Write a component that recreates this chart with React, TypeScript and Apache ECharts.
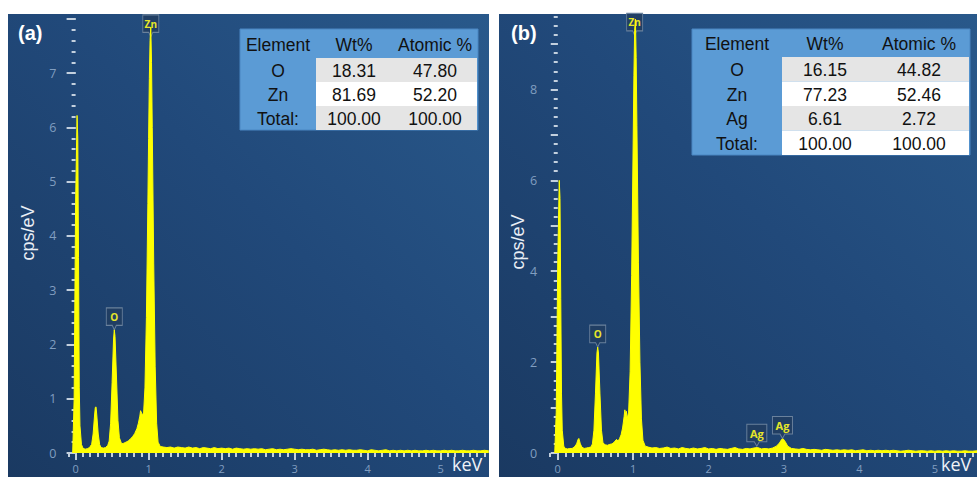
import React, { useEffect, useRef } from "react";
import * as echarts from "echarts";

// ---------- Spectrum (a) : ZnO ----------
const energyA = [
  -0.04, -0.02, 0.0, 0.02, 0.03, 0.04, 0.05, 0.06, 0.08, 0.1, 0.13, 0.16, 0.19, 0.22, 0.24, 0.26, 0.27, 0.28, 0.29, 0.31,
  0.33, 0.35, 0.38, 0.41, 0.44, 0.46, 0.48, 0.5, 0.52, 0.53, 0.54, 0.56, 0.58, 0.6, 0.63, 0.66, 0.69, 0.72, 0.75, 0.78,
  0.81, 0.84, 0.86, 0.88, 0.89, 0.91, 0.93, 0.95, 0.97, 0.99, 1.0, 1.01, 1.02, 1.03, 1.04, 1.05, 1.07, 1.09, 1.11, 1.13,
  1.16, 1.2, 1.25, 1.3, 1.35, 1.4, 1.45, 1.5, 1.55, 1.6, 1.65, 1.7, 1.75, 1.8, 1.85, 1.9, 1.95, 2.0, 2.05, 2.1,
  2.15, 2.2, 2.25, 2.3, 2.35, 2.4, 2.45, 2.5, 2.55, 2.6, 2.65, 2.7, 2.75, 2.8, 2.85, 2.9, 2.95, 3.0, 3.05, 3.1,
  3.15, 3.2, 3.25, 3.3, 3.35, 3.4, 3.45, 3.5, 3.55, 3.6, 3.65, 3.7, 3.75, 3.8, 3.85, 3.9, 3.95, 4.0, 4.05, 4.1,
  4.15, 4.2, 4.25, 4.3, 4.35, 4.4, 4.45, 4.5, 4.55, 4.6, 4.65, 4.7, 4.75, 4.8, 4.85, 4.9, 4.95, 5.0, 5.05, 5.1,
  5.15, 5.2, 5.25, 5.3, 5.35, 5.4, 5.45, 5.5, 5.55, 5.6, 5.66,
];
const cpsA = [
  0, 1.0, 4.6, 6.22, 5.8, 3.6, 1.2, 0.5, 0.16, 0.09, 0.07, 0.08, 0.1, 0.16, 0.35, 0.7, 0.84, 0.85, 0.7, 0.35,
  0.15, 0.1, 0.09, 0.1, 0.14, 0.22, 0.55, 1.3, 2.1, 2.27, 2.15, 1.4, 0.6, 0.28, 0.17, 0.18, 0.2, 0.22, 0.26, 0.3,
  0.36, 0.45, 0.55, 0.68, 0.78, 0.72, 0.7, 1.2, 2.5, 4.6, 5.8, 6.9, 7.6, 7.85, 7.2, 6.0, 3.5, 1.6, 0.55, 0.2,
  0.12, 0.11, 0.1, 0.11, 0.09, 0.11, 0.1, 0.09, 0.11, 0.09, 0.1, 0.08, 0.1, 0.09, 0.08, 0.1, 0.08, 0.09, 0.08, 0.09,
  0.07, 0.09, 0.08, 0.07, 0.08, 0.07, 0.08, 0.07, 0.08, 0.06, 0.07, 0.08, 0.06, 0.07, 0.06, 0.07, 0.08, 0.07, 0.06, 0.07,
  0.06, 0.06, 0.07, 0.05, 0.06, 0.07, 0.06, 0.05, 0.06, 0.05, 0.06, 0.05, 0.06, 0.05, 0.05, 0.06, 0.05, 0.04, 0.06, 0.05,
  0.04, 0.05, 0.06, 0.04, 0.05, 0.04, 0.05, 0.04, 0.05, 0.04, 0.05, 0.04, 0.04, 0.05, 0.04, 0.05, 0.04, 0.04, 0.05, 0.04,
  0.05, 0.04, 0.04, 0.05, 0.04, 0.04, 0.05, 0.04, 0.04, 0.05, 0.04,
];

// ---------- Spectrum (b) : Ag-doped ZnO ----------
const energyB = [
  -0.04, -0.02, 0.0, 0.02, 0.03, 0.04, 0.05, 0.06, 0.08, 0.1, 0.13, 0.16, 0.19, 0.22, 0.25, 0.27, 0.28, 0.3, 0.32, 0.35,
  0.38, 0.41, 0.44, 0.46, 0.48, 0.5, 0.52, 0.53, 0.54, 0.56, 0.58, 0.6, 0.63, 0.66, 0.69, 0.72, 0.75, 0.78, 0.8, 0.82,
  0.84, 0.86, 0.88, 0.89, 0.9, 0.91, 0.92, 0.94, 0.96, 0.98, 1.0, 1.01, 1.02, 1.03, 1.04, 1.05, 1.07, 1.09, 1.11, 1.13,
  1.16, 1.2, 1.25, 1.3, 1.35, 1.4, 1.45, 1.5, 1.55, 1.6, 1.65, 1.7, 1.75, 1.8, 1.85, 1.9, 1.95, 2.0, 2.05, 2.1,
  2.15, 2.2, 2.25, 2.3, 2.35, 2.4, 2.45, 2.5, 2.55, 2.6, 2.65, 2.7, 2.75, 2.8, 2.85, 2.9, 2.94, 2.97, 2.99, 3.02,
  3.05, 3.1, 3.15, 3.2, 3.25, 3.3, 3.35, 3.4, 3.45, 3.5, 3.55, 3.6, 3.65, 3.7, 3.75, 3.8, 3.85, 3.9, 3.95, 4.0,
  4.05, 4.1, 4.15, 4.2, 4.25, 4.3, 4.35, 4.4, 4.45, 4.5, 4.55, 4.6, 4.65, 4.7, 4.75, 4.8, 4.85, 4.9, 4.95, 5.0,
  5.05, 5.1, 5.15, 5.2, 5.25, 5.3, 5.35, 5.4, 5.45, 5.5, 5.57,
];
const cpsB = [
  0, 0.9, 4.2, 6.0, 5.6, 3.4, 1.3, 0.5, 0.15, 0.1, 0.09, 0.1, 0.1, 0.13, 0.2, 0.3, 0.32, 0.2, 0.13, 0.1,
  0.11, 0.12, 0.13, 0.2, 0.5, 1.3, 2.2, 2.33, 2.2, 1.3, 0.5, 0.22, 0.18, 0.17, 0.19, 0.2, 0.24, 0.3, 0.26, 0.32,
  0.4, 0.55, 0.8, 0.95, 0.85, 0.92, 0.75, 0.9, 1.8, 3.9, 6.8, 8.3, 9.3, 9.55, 8.7, 7.2, 4.2, 2.0, 0.75, 0.28,
  0.15, 0.13, 0.11, 0.12, 0.1, 0.11, 0.13, 0.1, 0.11, 0.09, 0.12, 0.1, 0.09, 0.11, 0.09, 0.1, 0.12, 0.09, 0.1, 0.08,
  0.1, 0.09, 0.08, 0.1, 0.12, 0.09, 0.08, 0.1, 0.09, 0.11, 0.12, 0.09, 0.1, 0.09, 0.11, 0.15, 0.22, 0.3, 0.31, 0.24,
  0.15, 0.1, 0.09, 0.08, 0.1, 0.08, 0.07, 0.08, 0.07, 0.06, 0.08, 0.07, 0.06, 0.07, 0.06, 0.07, 0.06, 0.07, 0.05, 0.06,
  0.07, 0.05, 0.06, 0.05, 0.06, 0.05, 0.06, 0.05, 0.06, 0.05, 0.04, 0.05, 0.06, 0.05, 0.04, 0.05, 0.05, 0.04, 0.05, 0.04,
  0.05, 0.04, 0.05, 0.04, 0.05, 0.04, 0.04, 0.05, 0.04, 0.04, 0.05,
];

// ---------- Peak labels ----------
const peakNamesA = ["Zn", "O"];
const peakEnergyA = [1.03, 0.53];
const peakCpsA = [7.67, 2.27];
const peakNamesB = ["Zn", "O", "Ag", "Ag"];
const peakEnergyB = [1.02, 0.53, 2.64, 2.98];
const peakCpsB = [9.19, 2.33, 0.15, 0.32];

// ---------- Tables ----------
const headers = ["Element", "Wt%", "Atomic %"];
const elementsA = ["O", "Zn", "Total:"];
const wtA = ["18.31", "81.69", "100.00"];
const atomicA = ["47.80", "52.20", "100.00"];
const elementsB = ["O", "Zn", "Ag", "Total:"];
const wtB = ["16.15", "77.23", "6.61", "100.00"];
const atomicB = ["44.82", "52.46", "2.72", "100.00"];

// ---------- Ticks ----------
const xMajorTicks = [0, 1, 2, 3, 4, 5];
const yMajorTicksA = [0, 1, 2, 3, 4, 5, 6, 7, 8];
const yLabelTicksA = [0, 1, 2, 3, 4, 5, 6, 7];
const yMajorTicksB = [0, 1, 2, 3, 4, 5, 6, 7, 8, 9];
const yLabelTicksB = [0, 2, 4, 6, 8];
const steps = (a: number, b: number, s: number) => {
  const out: number[] = [];
  const n = Math.round((b - a) / s);
  for (let i = 0; i <= n; i++) out.push(+(a + i * s).toFixed(2));
  return out;
};
const xMinorTicks = steps(-0.1, 5.6, 0.1);
const yMinorTicksA = steps(0, 8, 0.2);
const yMinorTicksB = steps(0, 9.6, 0.2);

const TICK = "#c3d0de";
const LABEL = "#819ec0";
const YEL = "#ffff00";
const CALLOUT = "path://M0,0L20,0L20,16L12.5,16L10,20L7.5,16L0,16Z";

function table(x0: number, y0: number, colW: number[], headH: number, rowH: number,
  els: string[], wts: string[], ats: string[]) {
  const els2: any[] = [];
  const total = colW[0] + colW[1] + colW[2];
  const h = headH + rowH * els.length;
  els2.push({ type: "rect", shape: { x: x0, y: y0, width: total, height: h }, style: { fill: "#5b9bd5", stroke: "#4a86c2", lineWidth: 1 }, z: 20 });
  els.forEach((_, i) => {
    els2.push({
      type: "rect",
      shape: { x: x0 + colW[0], y: y0 + headH + i * rowH, width: colW[1] + colW[2] - 1, height: rowH },
      style: { fill: i % 2 === 0 ? "#e5e5e5" : "#ffffff" }, z: 21,
    });
  });
  const cx = [x0 + colW[0] / 2, x0 + colW[0] + colW[1] / 2, x0 + colW[0] + colW[1] + colW[2] / 2];
  const font = { fontFamily: "Liberation Sans, Arial, sans-serif", fontSize: 17.5, fill: "#111111" };
  headers.forEach((t, j) => {
    els2.push({ type: "text", x: cx[j], y: y0 + headH / 2 + 1, style: { text: t, align: "center", verticalAlign: "middle", ...font }, z: 22 });
  });
  els.forEach((e, i) => {
    const cy = y0 + headH + i * rowH + rowH / 2 + 1;
    [e, wts[i], ats[i]].forEach((t, j) => {
      els2.push({ type: "text", x: cx[j], y: cy, style: { text: t, align: "center", verticalAlign: "middle", ...font }, z: 22 });
    });
  });
  return els2;
}

function xAxes(grid: number, max: number) {
  const base = { type: "value", gridIndex: grid, min: -0.1, max, position: "bottom", offset: 2, axisLine: { show: false }, splitLine: { show: false } };
  return [
    {
      ...base,
      axisTick: { show: true, customValues: xMajorTicks, length: 7, lineStyle: { color: TICK, width: 2 } },
      axisLabel: { show: true, customValues: xMajorTicks, color: LABEL, fontSize: 11, margin: 8, fontFamily: "Open Sans, sans-serif" },
    },
    {
      ...base,
      axisTick: { show: true, customValues: xMinorTicks, length: 4, lineStyle: { color: TICK, width: 2 } },
      axisLabel: { show: false },
    },
  ];
}

function yAxes(grid: number, max: number, major: number[], labels: number[], minor: number[], majLen: number, margin: number) {
  const base = { type: "value", gridIndex: grid, min: 0, max, position: "left", axisLine: { show: false }, splitLine: { show: false } };
  return [
    {
      ...base,
      axisTick: { show: true, customValues: major, length: majLen, lineStyle: { color: TICK, width: 2 } },
      axisLabel: { show: true, customValues: labels, color: LABEL, fontSize: 12.5, margin, fontFamily: "Open Sans, sans-serif" },
    },
    {
      ...base,
      axisTick: { show: true, customValues: minor, length: 4, lineStyle: { color: TICK, width: 2 } },
      axisLabel: { show: false },
    },
  ];
}

function markPoints(names: string[], xs: number[], ys: number[]) {
  return {
    symbol: CALLOUT,
    symbolKeepAspect: false,
    symbolOffset: [0, "-50%"],
    silent: true,
    itemStyle: { color: "rgba(33,62,98,0.9)", borderColor: "#6a819c", borderWidth: 1 },
    label: { show: true, color: "#e6e62a", fontSize: 10, fontWeight: "bold", offset: [0, -2], formatter: "{b}", fontFamily: "Open Sans, sans-serif" },
    data: names.map((n, i) => ({
      name: n,
      coord: [xs[i], ys[i]],
      symbolSize: n === "Ag" ? [20, 22] : [16, 22],
      label: { fontSize: n === "Ag" ? 11 : 10 },
    })),
  };
}

function series(x: number[], y: number[], idx: number, mp: any) {
  return {
    type: "line",
    xAxisIndex: idx * 2,
    yAxisIndex: idx * 2,
    data: x.map((v, i) => [v, y[i]]),
    showSymbol: false,
    symbol: "none",
    lineStyle: { color: YEL, width: 1 },
    areaStyle: { color: YEL, opacity: 1 },
    markPoint: mp,
    z: 5,
  };
}

export default function App() {
  const ref = useRef<HTMLDivElement>(null);
  useEffect(() => {
    if (!ref.current) return;
    const chart = echarts.init(ref.current, undefined, { renderer: "svg" });
    const bg = () => new echarts.graphic.LinearGradient(0, 1, 1, 0, [
      { offset: 0, color: "#1a3961" },
      { offset: 0.55, color: "#21497a" },
      { offset: 1, color: "#29598b" },
    ]);
    const option: any = {
      animation: false,
      backgroundColor: "#ffffff",
      grid: [
        { left: 68.3, top: 14, width: 420.7, bottom: 24, containLabel: false },
        { left: 550.2, top: 14, right: 0, bottom: 24, containLabel: false },
      ],
      xAxis: [...xAxes(0, 5.663), ...xAxes(1, 5.56)],
      yAxis: [
        ...yAxes(0, 8.09, yMajorTicksA, yLabelTicksA, yMinorTicksA, 9, 12),
        ...yAxes(1, 9.66, yMajorTicksB, yLabelTicksB, yMinorTicksB, 7, 13),
      ],
      series: [
        series(energyA, cpsA, 0, markPoints(peakNamesA, peakEnergyA, peakCpsA)),
        series(energyB, cpsB, 1, markPoints(peakNamesB, peakEnergyB, peakCpsB)),
      ],
      graphic: [
        { type: "rect", shape: { x: 8, y: 14, width: 481, height: 470 }, style: { fill: bg() }, z: -10 },
        { type: "rect", shape: { x: 499, y: 14, width: 490, height: 470 }, style: { fill: bg() }, z: -10 },
        { type: "text", x: 18, y: 33, style: { text: "(a)", fill: "#ffffff", fontSize: 20, fontWeight: "bold", fontFamily: "Liberation Sans, Arial, sans-serif", verticalAlign: "middle" }, z: 30 },
        { type: "text", x: 511, y: 33, style: { text: "(b)", fill: "#ffffff", fontSize: 20, fontWeight: "bold", fontFamily: "Liberation Sans, Arial, sans-serif", verticalAlign: "middle" }, z: 30 },
        { type: "text", x: 28, y: 233, rotation: Math.PI / 2, style: { text: "cps/eV", fill: "#e9eef5", fontSize: 18, fontFamily: "Liberation Sans, Arial, sans-serif", align: "center", verticalAlign: "middle" }, z: 30 },
        { type: "text", x: 518, y: 242, rotation: Math.PI / 2, style: { text: "cps/eV", fill: "#e9eef5", fontSize: 18, fontFamily: "Liberation Sans, Arial, sans-serif", align: "center", verticalAlign: "middle" }, z: 30 },
        { type: "text", x: 452, y: 464, style: { text: "keV", fill: "#eef2f7", fontSize: 18, fontFamily: "Open Sans, sans-serif", verticalAlign: "middle" }, z: 30 },
        { type: "text", x: 941, y: 464, style: { text: "keV", fill: "#eef2f7", fontSize: 18, fontFamily: "Open Sans, sans-serif", verticalAlign: "middle" }, z: 30 },
        ...table(240, 29, [76, 76, 86], 29, 24, elementsA, wtA, atomicA),
        ...table(692, 29, [90, 86, 192 - 86 - 4], 28, 24.5, elementsB, wtB, atomicB),
      ],
    };
    chart.setOption(option);
    return () => chart.dispose();
  }, []);
  return <div ref={ref} style={{ position: "absolute", left: 0, top: 0, width: 977, height: 477 }} />;
}
